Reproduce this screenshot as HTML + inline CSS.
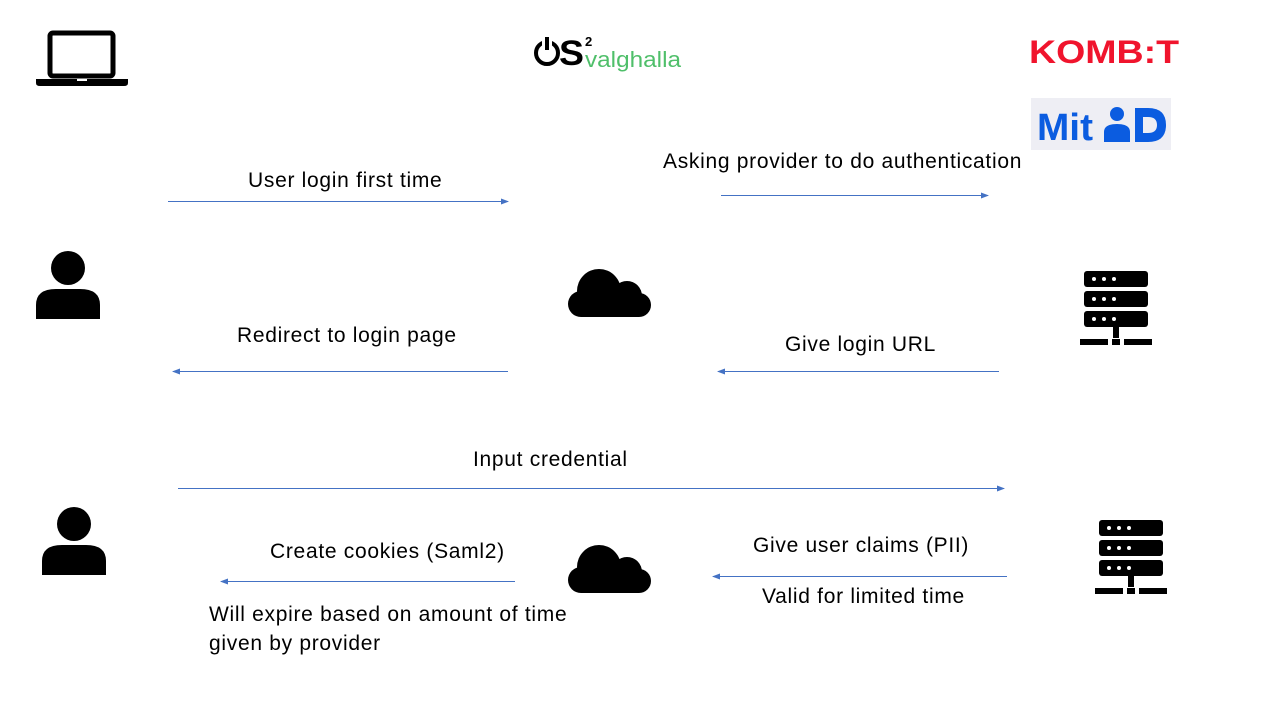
<!DOCTYPE html>
<html><head><meta charset="utf-8"><style>
body{margin:0;width:1280px;height:720px;background:#fff;overflow:hidden;position:relative;font-family:"Liberation Sans",sans-serif}
.t{position:absolute;font-size:21px;letter-spacing:0.7px;color:#000;white-space:nowrap}
svg{position:absolute;left:0;top:0}
</style></head><body>
<svg width="1280" height="720" viewBox="0 0 1280 720">
<defs>
<marker id="a" markerWidth="8" markerHeight="8" refX="7" refY="4" orient="auto" markerUnits="userSpaceOnUse"><path d="M0,1 L8,4 L0,7 z" fill="#4472c4"/></marker>
<g id="cloud"><circle cx="599" cy="291" r="22"/><circle cx="627" cy="296" r="15"/><circle cx="581" cy="304" r="13"/><circle cx="639" cy="305" r="12"/><rect x="581" y="296" width="58" height="21"/></g>
<g id="person"><circle cx="68" cy="268" r="17"/><path d="M36,319 V305 Q36,289 56,289 H80 Q100,289 100,305 V319 Z"/></g>
<g id="server"><rect x="1084" y="271" width="64" height="16" rx="3"/><rect x="1084" y="291" width="64" height="16" rx="3"/><rect x="1084" y="311" width="64" height="16" rx="3"/>
<g fill="#fff"><circle cx="1094" cy="279" r="2"/><circle cx="1104" cy="279" r="2"/><circle cx="1114" cy="279" r="2"/><circle cx="1094" cy="299" r="2"/><circle cx="1104" cy="299" r="2"/><circle cx="1114" cy="299" r="2"/><circle cx="1094" cy="319" r="2"/><circle cx="1104" cy="319" r="2"/><circle cx="1114" cy="319" r="2"/></g>
<rect x="1113" y="327" width="6" height="11"/><rect x="1080" y="339" width="28" height="6"/><rect x="1112" y="339" width="8" height="6"/><rect x="1124" y="339" width="28" height="6"/></g>
</defs>
<rect x="50" y="33" width="63" height="43" rx="3" fill="none" stroke="#000" stroke-width="5"/>
<path d="M36,79 H128 V83 Q128,86 124,86 H40 Q36,86 36,83 Z"/>
<rect x="77" y="79" width="10" height="2" fill="#fff"/>
<use href="#person"/>
<use href="#person" transform="translate(6,256)"/>
<use href="#cloud"/>
<use href="#cloud" transform="translate(0,276)"/>
<use href="#server"/>
<use href="#server" transform="translate(15,249)"/>
<!-- OS2 logo -->
<circle cx="547" cy="53" r="11" fill="none" stroke="#000" stroke-width="4"/>
<rect x="542" y="36" width="10" height="11" fill="#fff"/>
<rect x="545" y="37" width="4" height="13"/>
<text x="559" y="65" font-family="Liberation Sans" font-weight="bold" font-size="35" textLength="25" lengthAdjust="spacingAndGlyphs">S</text>
<text x="585" y="46" font-family="Liberation Sans" font-weight="bold" font-size="13">2</text>
<text x="585" y="67" font-family="Liberation Sans" font-size="22" fill="#4fbf6a" textLength="96" lengthAdjust="spacingAndGlyphs">valghalla</text>
<text x="1029" y="63" font-family="Liberation Sans" font-weight="bold" font-size="32" fill="#f0142d" textLength="150" lengthAdjust="spacingAndGlyphs">KOMB:T</text>
<rect x="1031" y="98" width="140" height="52" fill="#eeeef4"/>
<text x="1037" y="140" font-family="Liberation Sans" font-weight="bold" font-size="38" fill="#0b5ce0" textLength="56" lengthAdjust="spacingAndGlyphs">Mit</text>
<circle cx="1117" cy="114" r="7" fill="#0b5ce0"/>
<path d="M1104,142 V132 Q1104,124 1117,124 Q1130,124 1130,132 V142 Z" fill="#0b5ce0"/>
<path d="M1135,108 H1148 Q1166,108 1166,125 Q1166,142 1148,142 H1135 Z" fill="#0b5ce0"/>
<path d="M1143,117 H1148 Q1157,117 1157,125 Q1157,133 1148,133 H1143 Z" fill="#eeeef4"/>
<g stroke="#4472c4" stroke-width="1" marker-end="url(#a)">
<line x1="168" y1="201.5" x2="508" y2="201.5"/>
<line x1="721" y1="195.5" x2="988" y2="195.5"/>
<line x1="508" y1="371.5" x2="173" y2="371.5"/>
<line x1="999" y1="371.5" x2="718" y2="371.5"/>
<line x1="178" y1="488.5" x2="1004" y2="488.5"/>
<line x1="515" y1="581.5" x2="221" y2="581.5"/>
<line x1="1007" y1="576.5" x2="713" y2="576.5"/>
</g>
</svg>
<div class="t" style="left:248px;top:169px">User login first time</div>
<div class="t" style="left:663px;top:150px">Asking provider to do authentication</div>
<div class="t" style="left:237px;top:324px">Redirect to login page</div>
<div class="t" style="left:785px;top:333px">Give login URL</div>
<div class="t" style="left:473px;top:448px">Input credential</div>
<div class="t" style="left:270px;top:540px">Create cookies (Saml2)</div>
<div class="t" style="left:753px;top:534px">Give user claims (PII)</div>
<div class="t" style="left:762px;top:585px">Valid for limited time</div>
<div class="t" style="left:209px;top:600px;line-height:29px">Will expire based on amount of time<br>given by provider</div>
</body></html>
